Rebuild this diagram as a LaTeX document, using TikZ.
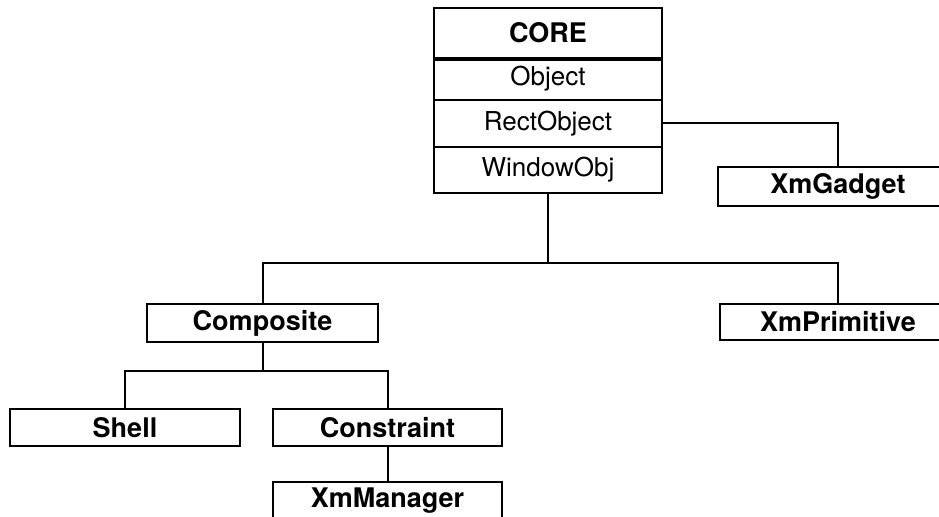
\documentclass[tikz,border=0pt]{standalone}
\usepackage{fontspec}
\setmainfont{TeX Gyre Heros}
\begin{document}
\begin{tikzpicture}[x=0.5pt,y=-0.5pt,font=\fontsize{13}{15}\selectfont,
    cls/.style={draw,line width=1pt,inner sep=0pt,font=\fontsize{13.5}{15}\selectfont\bfseries},
    row/.style={draw,line width=1pt,inner sep=0pt,minimum width=114pt},
    conn/.style={line width=1pt}]
    \useasboundingbox (0,0) rectangle (939,517);
    \clip (0,0) rectangle (939,517);

    % the core stack
    \node[row,font=\fontsize{13.5}{15}\selectfont\bfseries,minimum height=25pt] (core) at (548,33) {CORE};
    \node[row,minimum height=21pt] (obj) at (548,79) {Object};
    \node[row,minimum height=23.5pt] (rect) at (548,123.5) {RectObject};
    \node[row,minimum height=23pt] (win) at (548,170) {WindowObj};
    \draw[line width=2.2pt] (core.south west)--(core.south east);

    % subclasses
    \node[cls,minimum width=120pt,minimum height=19.5pt] (gadget) at (838,186.5) {XmGadget};
    \node[cls,minimum width=118pt,minimum height=18pt] (prim) at (838,322) {XmPrimitive};
    \node[cls,minimum width=115.5pt,minimum height=19pt] (comp) at (262.5,323) {Composite};
    \node[cls,minimum width=115pt,minimum height=18.5pt] (shell) at (125,427.5) {Shell};
    \node[cls,minimum width=114.5pt,minimum height=18.5pt] (cons) at (387.5,427.5) {Constraint};
    \node[cls,minimum width=114.5pt,minimum height=19pt] (mgr) at (387.5,501) {XmManager};

    \coordinate (j1) at (548,263);
    \coordinate (j2) at (262.5,371);

    \draw[conn] (rect.east) -| (gadget.north);
    \draw[conn] (win.south)--(j1);
    \draw[conn] (comp.north) |- (j1) -| (prim.north);
    \draw[conn] (comp.south)--(j2);
    \draw[conn] (shell.north) |- (j2) -| (cons.north);
    \draw[conn] (cons.south)--(mgr.north);
\end{tikzpicture}
\end{document}
